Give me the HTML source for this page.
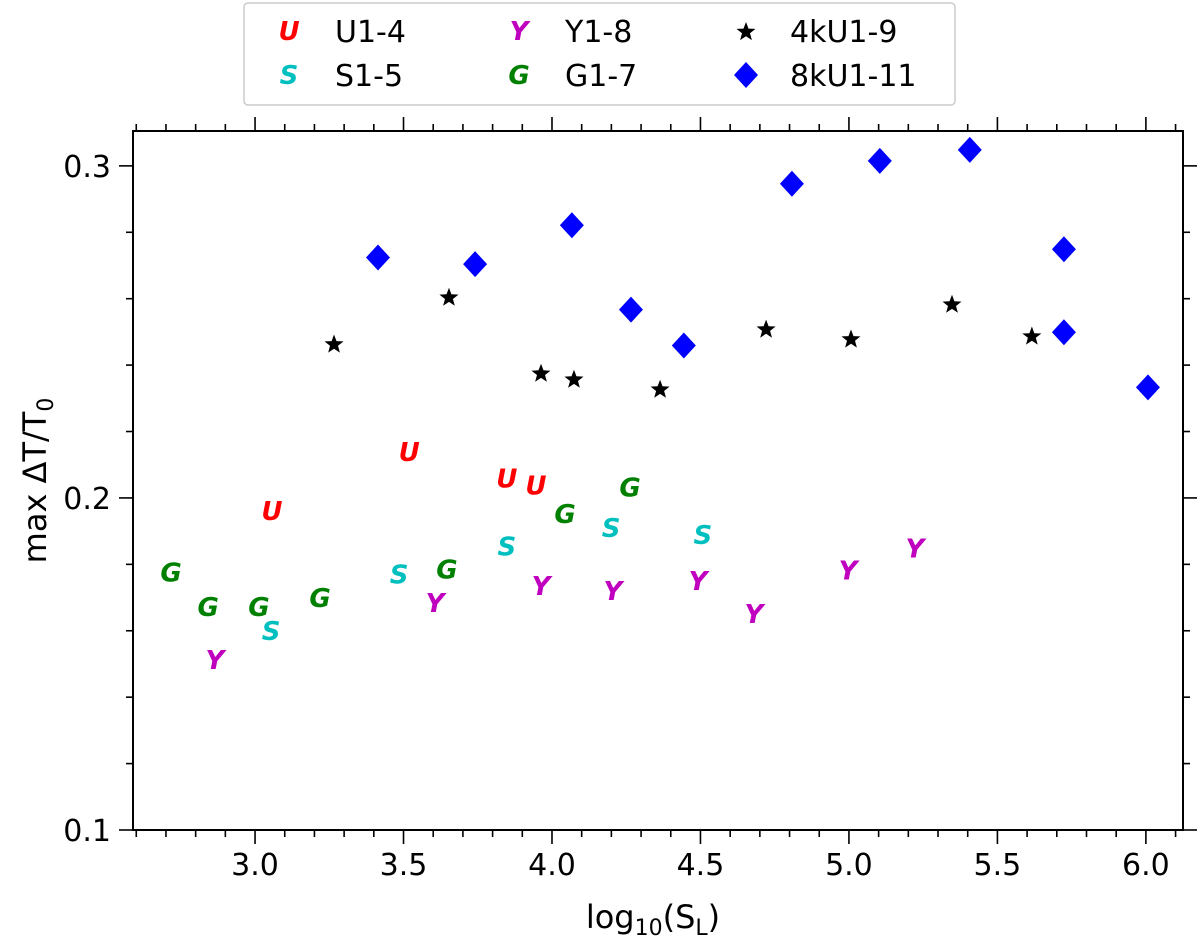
<!DOCTYPE html>
<html><head><meta charset="utf-8"><style>
html,body{margin:0;padding:0;background:#fff;}
svg{display:block;font-family:"DejaVu Sans","Liberation Sans",sans-serif;}
</style></head><body>
<svg id="chart" width="1200" height="944" viewBox="0 0 1200 944"></svg>
<script>
const diamondX=[3.414,3.741,4.067,4.266,4.444,4.808,5.104,5.407,5.724,5.724,6.007];
const diamondY=[0.2724,0.2704,0.2821,0.2567,0.2459,0.2946,0.3015,0.3048,0.2749,0.2499,0.2333];
const starX=[3.266,3.653,3.963,4.074,4.364,4.721,5.007,5.347,5.616];
const starY=[0.2462,0.2603,0.2374,0.2356,0.2326,0.2507,0.2477,0.2582,0.2486];
const uX=[3.519,3.057,3.848,3.946];
const uY=[0.2139,0.1961,0.2058,0.2037];
const sX=[3.485,3.054,3.848,4.199,4.508];
const sY=[0.1769,0.1600,0.1853,0.1910,0.1889];
const yX=[2.865,3.606,3.963,4.205,4.492,4.680,4.997,5.222];
const yY=[0.1512,0.1684,0.1735,0.1720,0.1750,0.1651,0.1781,0.1847];
const gX=[2.717,2.842,3.013,3.219,3.646,4.044,4.263];
const gY=[0.1775,0.1672,0.1672,0.1699,0.1784,0.1952,0.2031];
const xTicks=[3.0,3.5,4.0,4.5,5.0,5.5,6.0];
const yTicks=[0.1,0.2,0.3];

const L=133,R=1183,T=131,B=830;
const X0=2.589,X1=6.125,Y0=0.1,Y1=0.3105;
const sx=v=>L+(v-X0)/(X1-X0)*(R-L);
const sy=v=>B-(v-Y0)/(Y1-Y0)*(B-T);
const svg=document.getElementById('chart');
const NS='http://www.w3.org/2000/svg';
function mk(tag,at,parent){const e=document.createElementNS(NS,tag);for(const k in at)e.setAttribute(k,at[k]);(parent||svg).appendChild(e);return e;}

const frame=mk('rect',{x:L,y:T,width:R-L,height:B-T,fill:'none',stroke:'#000','stroke-width':2});



for(let i=26;i<=61;i++){const v=i/10;if(v<X0||v>X1)continue;const px=sx(v);const major=(i%5===0);const len=major?14:7;
 mk('line',{x1:px,y1:B,x2:px,y2:B+len,stroke:'#000','stroke-width':1.6});
 mk('line',{x1:px,y1:T,x2:px,y2:T-len,stroke:'#000','stroke-width':1.6});}
xTicks.forEach(v=>{const t=mk('text',{x:sx(v),y:B+45,'text-anchor':'middle','font-size':30});t.textContent=v.toFixed(1);
 
 });
for(let i=10;i<=31;i+=2){const v=i/100;if(v>Y1)continue;const py=sy(v);const major=(i%10===0);const len=major?14:7;
 mk('line',{x1:L,y1:py,x2:L-len,y2:py,stroke:'#000','stroke-width':1.6});
 mk('line',{x1:R,y1:py,x2:R+len,y2:py,stroke:'#000','stroke-width':1.6});}
yTicks.forEach(v=>{const t=mk('text',{x:L-22,y:sy(v)+11,'text-anchor':'end','font-size':30});t.textContent=v.toFixed(1);
 
 });

const xt=mk('text',{x:(L+R)/2-5,y:928,'text-anchor':'middle','font-size':32});
xt.innerHTML='log<tspan font-size="22" dy="7">10</tspan><tspan dy="-7">(S</tspan><tspan font-size="22" dy="7">L</tspan><tspan dy="-7">)</tspan>';


const yt=mk('text',{x:0,y:0,'text-anchor':'middle','font-size':32,transform:`translate(46,${(T+B)/2}) rotate(-90)`});
yt.innerHTML='max ΔT/T<tspan font-size="22" dy="7">0</tspan>';



function letter(x,y,ch,col,name){const t=mk('text',{x:x,y:y+9,'text-anchor':'middle','font-size':26,'font-weight':'bold','font-style':'italic',fill:col});t.textContent=ch;
 
 }
function star(x,y,r,name){let p=[];for(let i=0;i<10;i++){const a=-Math.PI/2+i*Math.PI/5;const rr=i%2?r*0.42:r;p.push((x+rr*Math.cos(a)).toFixed(1)+','+(y+rr*Math.sin(a)).toFixed(1));}
 const e=mk('polygon',{points:p.join(' '),fill:'#000'});
 
 }
function diamond(x,y,name){const e=mk('polygon',{points:`${x},${y-13} ${x+12},${y} ${x},${y+13} ${x-12},${y}`,fill:'#0000ff'});
 
 }

diamondX.forEach((v,i)=>diamond(sx(v),sy(diamondY[i]),'point-8ku'));
starX.forEach((v,i)=>star(sx(v),sy(starY[i]),10,'point-4ku'));
uX.forEach((v,i)=>letter(sx(v),sy(uY[i]),'U','#ff0000','point-u'));
sX.forEach((v,i)=>letter(sx(v),sy(sY[i]),'S','#00bfbf','point-s'));
yX.forEach((v,i)=>letter(sx(v),sy(yY[i]),'Y','#bf00bf','point-y'));
gX.forEach((v,i)=>letter(sx(v),sy(gY[i]),'G','#008000','point-g'));

const lg=mk('rect',{x:244,y:3,width:711,height:102,rx:4,fill:'#fff',stroke:'#ccc','stroke-width':1.5});


function ltext(x,y,s){const t=mk('text',{x:x,y:y+11,'font-size':30});t.textContent=s;
 
 }
letter(289,31,'U','#ff0000','legend-marker-u');ltext(335,31,'U1-4');
letter(289,75,'S','#00bfbf','legend-marker-s');ltext(335,75,'S1-5');
letter(519,31,'Y','#bf00bf','legend-marker-y');ltext(565,31,'Y1-8');
letter(519,75,'G','#008000','legend-marker-g');ltext(565,75,'G1-7');
star(746,32,10,'legend-marker-4ku');ltext(790,31,'4kU1-9');
diamond(746,75,'legend-marker-8ku');ltext(790,75,'8kU1-11');
</script>
</body></html>
